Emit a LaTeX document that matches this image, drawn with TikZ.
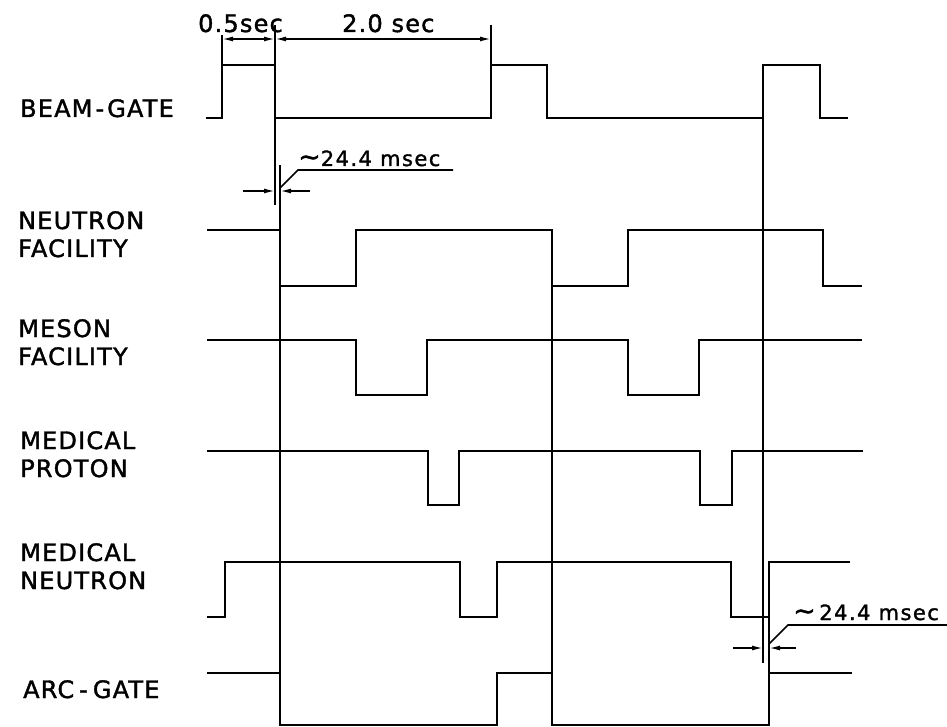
\documentclass[tikz,border=0pt]{standalone}
\usepackage{fontspec}
\newfontfamily\lettering[LetterSpace=5,FakeBold=1.6]{DejaVu Sans}
\newfontfamily\smalllettering[LetterSpace=7,FakeBold=1.4]{DejaVu Sans}
\usetikzlibrary{arrows.meta}
\newcommand{\approxsign}{{\fontsize{27}{27}\selectfont ∼}}

\begin{document}
\begin{tikzpicture}[
  x=1pt, y=-1pt,
  sig/.style={line width=2.7pt, line join=miter},
  refl/.style={line width=2pt},
  dimline/.style={line width=1.6pt},
  dimarr/.style={dimline, -{Latex[length=11pt,width=5pt]}},
  dimboth/.style={dimline, {Latex[length=11pt,width=5pt]}-{Latex[length=11pt,width=5pt]}},
  signame/.style={font=\lettering\fontsize{24}{28}\selectfont, anchor=base west, align=left, inner sep=0pt},
  toptxt/.style={font=\lettering\fontsize{24}{28}\selectfont, anchor=base west, inner sep=0pt},
  msectxt/.style={font=\smalllettering\fontsize{21}{24}\selectfont, anchor=base west, inner sep=0pt},
]
\useasboundingbox (0,0) rectangle (947,727);

% signal names
\node[signame] (beam)  at (20,117) {BEAM\kern3pt-\kern3pt GATE};
\node[signame] (neut)  at (18,257) {NEUTRON\\FACILITY};
\node[signame] (meson) at (18,365) {MESON\\FACILITY};
\node[signame] (mprot) at (20,477) {MEDICAL\\PROTON};
\node[signame] (mneut) at (20,589) {MEDICAL\\NEUTRON};
\node[signame] (arc)   at (23,698) {ARC\kern5pt-\kern5pt GATE};

% waveforms
\draw[sig] (206,118) -- (222,118) -- (222,65) -- (275,65) -- (275,118) -- (491,118) -- (491,65)
  -- (547,65) -- (547,118) -- (763,118) -- (763,65) -- (820,65) -- (820,118) -- (848,118);
\draw[sig] (207,230) -- (280,230) -- (280,286) -- (356,286) -- (356,230) -- (552,230) -- (552,286)
  -- (628,286) -- (628,230) -- (823,230) -- (823,286) -- (862,286);
\draw[sig] (207,340) -- (356,340) -- (356,395) -- (427,395) -- (427,340) -- (628,340) -- (628,395)
  -- (699,395) -- (699,340) -- (862,340);
\draw[sig] (207,451) -- (428,451) -- (428,505) -- (459,505) -- (459,451) -- (700,451) -- (700,505)
  -- (732,505) -- (732,451) -- (863,451);
\draw[sig] (207,617) -- (225,617) -- (225,562) -- (460,562) -- (460,617) -- (497,617) -- (497,562)
  -- (731,562) -- (731,617) -- (769,617) -- (769,562) -- (850,562);
\draw[sig] (207,673) -- (280,673) -- (280,725) -- (497,725) -- (497,673) -- (552,673) -- (552,725)
  -- (769,725) -- (769,673) -- (852,673);

% reference lines
\draw[refl] (222,35) -- (222,65);
\draw[refl] (491,25) -- (491,65);
\draw[refl] (275,25) -- (275,205);
\draw[refl] (280,165) -- (280,725);
\draw[refl] (552,230) -- (552,725);
\draw[refl] (763,65) -- (763,663);
\draw[refl] (769,562) -- (769,725);

% 0.5 sec / 2.0 sec
\coordinate (ta) at (222,39);
\coordinate (tb) at (275,39);
\coordinate (tc) at (491,39);
\draw[dimboth] (ta) -- (tb);
\draw[dimboth] (tb) -- (tc);
\node[toptxt] (half) at (198,32) {0.5sec};
\node[toptxt] (two)  at (342,32) {2.0 sec};

% 24.4 msec (top)
\coordinate (da) at (243,191);
\coordinate (db) at (275,191);
\coordinate (dc) at (280,191);
\coordinate (dd) at (310,191);
\draw[dimarr] (da) -- (db);
\draw[dimarr] (dd) -- (dc);
\node[msectxt] (msa) at (298,166) {\approxsign24.4 msec};
\draw[dimline] (280,188) -- (298,170) -- (453,170);

% 24.4 msec (bottom)
\coordinate (ea) at (733,648);
\coordinate (eb) at (763,648);
\coordinate (ec) at (769,648);
\coordinate (ed) at (796,648);
\draw[dimarr] (ea) -- (eb);
\draw[dimarr] (ed) -- (ec);
\node[msectxt] (msb) at (793,620) {\approxsign\,24.4 msec};
\draw[dimline] (769,644) -- (788,625) -- (947,625);
\end{tikzpicture}
\end{document}
